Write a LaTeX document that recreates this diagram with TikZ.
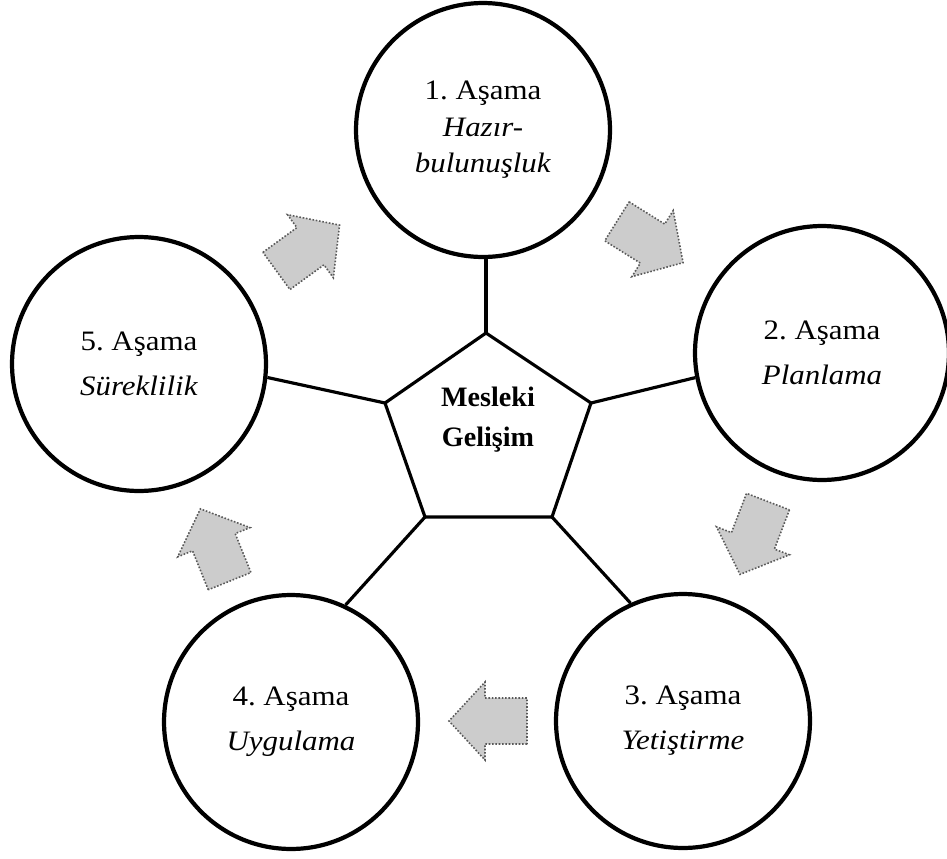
\documentclass[tikz,border=0pt]{standalone}
\usepackage{fontspec}
\setmainfont{Liberation Serif}
\newfontfamily\widefont{Liberation Serif}[FakeStretch=1.1]
\frenchspacing
\begin{document}
\begin{tikzpicture}[x=0.02cm,y=-0.02cm,
  stage/.style={circle, draw=black, line width=2.4pt, minimum size=5.08cm, inner sep=0pt, align=center,
    font=\widefont\fontsize{16}{25.6}\selectfont},
  link/.style={line width=1.8pt, line join=miter},
  flowarrow/.style={fill=black!20, draw=black!65, densely dotted, line width=0.9pt},
  flow/.pic={\path[flowarrow] (-39,-23) -- (3,-23) -- (3,-39) -- (39,0) -- (3,39) -- (3,23) -- (-39,23) -- cycle;}
]
\useasboundingbox (0,0) rectangle (947,859);

% stages
\node[stage, font=\widefont\fontsize{16}{20.8}\selectfont] (c1) at (483,130) {1. Aşama\\\textit{Hazır-}\\\textit{bulunuşluk}};
\node[stage] (c2) at (822,353) {2. Aşama\\\textit{Planlama}};
\node[stage] (c3) at (683,721) {3. Aşama\\\textit{Yetiştirme}};
\node[stage] (c4) at (291,722) {4. Aşama\\\textit{Uygulama}};
\node[stage] (c5) at (139,364) {5. Aşama\\\textit{Süreklilik}};

% central pentagon
\coordinate (p1) at (486,333);
\coordinate (p2) at (591,403);
\coordinate (p3) at (552,517);
\coordinate (p4) at (425,517);
\coordinate (p5) at (385,403);
\draw[link] (p1) -- (p2) -- (p3) -- (p4) -- (p5) -- cycle;
\node[font=\bfseries\fontsize{16}{22.8}\selectfont, align=center] (core) at (488,420) {Mesleki\\Gelişim};

% connectors
\draw[link] (p1) -- (p1 |- c1.south);
\draw[link] (p2) -- (c2.191);
\draw[link] (p3) -- (c3.114);
\draw[link] (p4) -- (c4.65);
\draw[link] (p5) -- (c5.354);

% flow arrows
\pic[rotate=36] at (308,248) {flow};
\pic[rotate=-32] at (650,242) {flow};
\pic[rotate=-111] at (754,538) {flow};
\pic[rotate=180] at (488,721) {flow};
\pic[rotate=112] at (215,545) {flow};
\end{tikzpicture}
\end{document}
